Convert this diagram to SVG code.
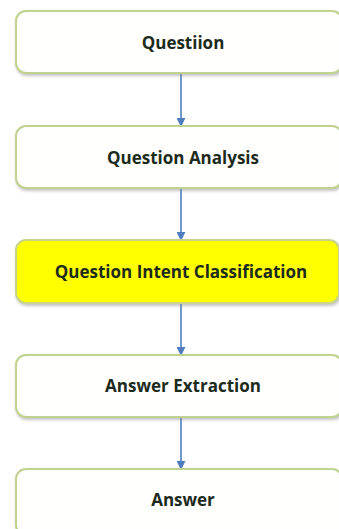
<svg xmlns="http://www.w3.org/2000/svg" width="339" height="529" viewBox="0 0 339 529">
<style>
.box{fill:#fffffd;stroke:#bfd38f;stroke-width:2}
.hl{fill:#ffff00;stroke:#c8d48a;stroke-width:2}
.lbl{font-family:"Open Sans","Liberation Sans",sans-serif;font-weight:bold;font-size:17px;fill:#1c2b1c;text-anchor:middle}
.conn{stroke:#4f7ec0;stroke-width:1.6;fill:none;marker-end:url(#ah)}
</style>
<defs>
<marker id="ah" viewBox="0 0 10 10" refX="9" refY="5" markerWidth="9" markerHeight="9" markerUnits="userSpaceOnUse" orient="auto">
<path d="M0,0 L10,5 L0,10 z" fill="#4f7ec0"/>
</marker>
<filter id="sh" x="-10%" y="-20%" width="130%" height="150%">
<feDropShadow dx="1" dy="2" stdDeviation="1.5" flood-color="#888" flood-opacity="0.5"/>
</filter>
</defs>
<rect width="339" height="529" fill="#ffffff"/>
<g id="connectors">
<line class="conn" x1="181" y1="74" x2="181" y2="126"/>
<line class="conn" x1="181" y1="189" x2="181" y2="240"/>
<line class="conn" x1="181" y1="304" x2="181" y2="355"/>
<line class="conn" x1="181" y1="418" x2="181" y2="469"/>
</g>
<g id="n1"><rect class="box" filter="url(#sh)" x="16" y="11" width="326" height="62" rx="10"/><text class="lbl" x="183" y="49">Questiion</text></g>
<g id="n2"><rect class="box" filter="url(#sh)" x="16" y="126" width="326" height="62" rx="10"/><text class="lbl" x="183" y="164">Question Analysis</text></g>
<g id="n3"><rect class="hl" filter="url(#sh)" x="16" y="240" width="323" height="63" rx="10"/><text class="lbl" x="181" y="278">Question Intent Classification</text></g>
<g id="n4"><rect class="box" filter="url(#sh)" x="16" y="355" width="326" height="62" rx="10"/><text class="lbl" x="183" y="392">Answer Extraction</text></g>
<g id="n5"><rect class="box" filter="url(#sh)" x="16" y="469" width="326" height="66" rx="10"/><text class="lbl" x="183" y="506">Answer</text></g>
</svg>
